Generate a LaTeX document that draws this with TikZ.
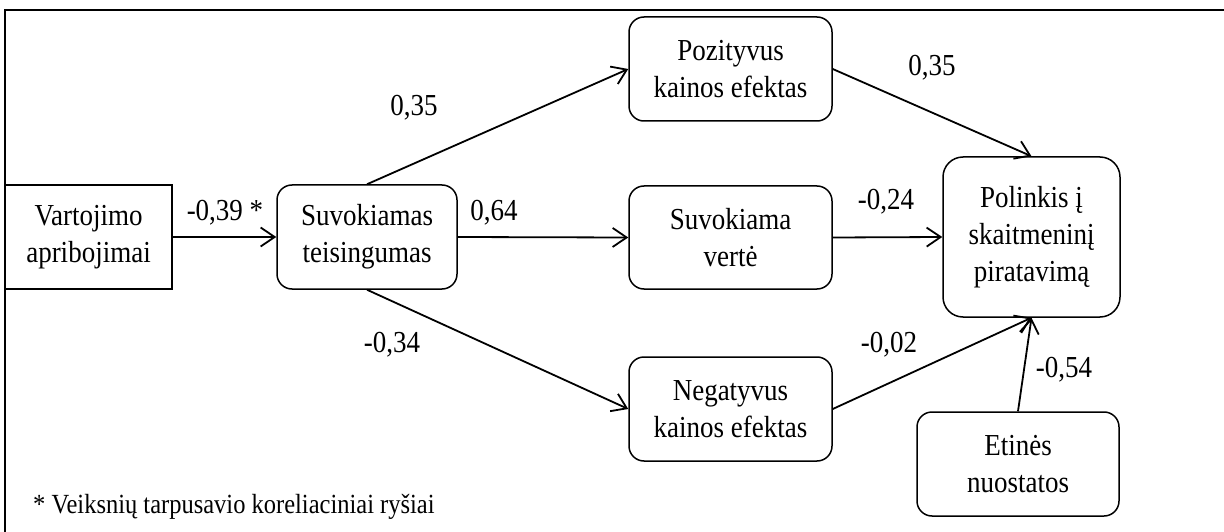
\documentclass[tikz,border=0pt]{standalone}
\usepackage{graphicx}
\usepackage{fontspec}
\setmainfont{Liberation Serif}
\usetikzlibrary{arrows.meta}
\newcommand\vstr[1]{\scalebox{1}[1.13]{#1}}
\begin{document}
\begin{tikzpicture}[x=1pt,y=-1pt,
  box/.style={draw,line width=1.5pt,align=center,inner sep=0pt,
    font=\fontsize{27}{37}\selectfont},
  rbox/.style={box,rounded corners=15pt},
  conn/.style={line width=1.8pt,-{Straight Barb[length=14pt,width=19pt]}},
  lab/.style={inner sep=0pt,font=\fontsize{27}{32}\selectfont},
  frame/.style={line width=1.8pt}]
\useasboundingbox (0,0) rectangle (1224,532);
\draw[frame] (5,532) -- (5,10) -- (1224,10);
\node[box,minimum width=167pt,minimum height=104pt] (V) at (88.5,237) {\vstr{Vartojimo}\\\vstr{apribojimai}};
\node[rbox,minimum width=180pt,minimum height=104pt] (S) at (367,237) {\vstr{Suvokiamas}\\\vstr{teisingumas}};
\node[rbox,minimum width=203pt,minimum height=104pt] (P) at (730.5,69) {\vstr{Pozityvus}\\\vstr{kainos efektas}};
\node[rbox,minimum width=203pt,minimum height=103pt] (SV) at (730.5,237.5) {\vstr{Suvokiama}\\\vstr{vertė}};
\node[rbox,minimum width=203pt,minimum height=104pt] (N) at (730.5,409) {\vstr{Negatyvus}\\\vstr{kainos efektas}};
\node[rbox,rounded corners=20pt,minimum width=177pt,minimum height=160pt] (Pol) at (1031.5,237) {\vstr{Polinkis į}\\\vstr{skaitmeninį}\\\vstr{piratavimą}};
\node[rbox,minimum width=202pt,minimum height=104pt] (E) at (1018,464) {\vstr{Etinės}\\\vstr{nuostatos}};
\draw[conn] (V.east) -- (S.west);
\draw[conn] (S.north) -- (P.west);
\draw[conn] (S.east) -- (SV.west);
\draw[conn] (S.south) -- (N.west);
\draw[conn] (P.east) -- (Pol.north);
\draw[conn] (SV.east) -- (Pol.west);
\draw[conn] (N.east) -- (Pol.south);
\draw[conn] (E.north) -- (Pol.south);
\node[lab] (l1) at (225,213) {\vstr{-0,39 *}};
\node[lab] (l2) at (414,108) {\vstr{0,35}};
\node[lab] (l3) at (494,213) {\vstr{0,64}};
\node[lab] (l4) at (392,345) {\vstr{-0,34}};
\node[lab] (l5) at (932,68) {\vstr{0,35}};
\node[lab] (l6) at (886,202) {\vstr{-0,24}};
\node[lab] (l7) at (889,345) {\vstr{-0,02}};
\node[lab] (l8) at (1064,370) {\vstr{-0,54}};
\node[inner sep=0pt,anchor=base west,font=\fontsize{24.5}{28}\selectfont] (note) at (33,513) {\vstr{* Veiksnių tarpusavio koreliaciniai ryšiai}};
\end{tikzpicture}
\end{document}
